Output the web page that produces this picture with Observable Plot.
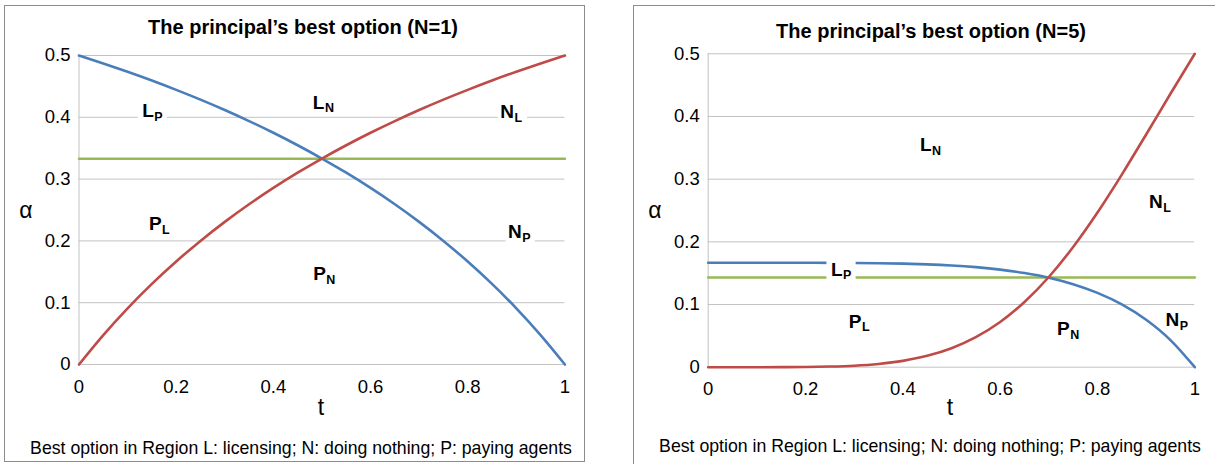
<!DOCTYPE html>
<html>
<head>
<meta charset="utf-8">
<script src="https://cdn.jsdelivr.net/npm/d3@7"></script>
<script src="https://cdn.jsdelivr.net/npm/@observablehq/plot@0.6"></script>
<style>
  html, body { margin: 0; padding: 0; background: #fff; }
  body { position: relative; width: 1215px; height: 464px; overflow: hidden;
         font-family: "Liberation Sans", Arial, sans-serif; color: #000; }
  .panel { position: absolute; box-sizing: border-box; border: 1px solid #8c8c8c; background: #fff; }
  .txt { position: absolute; white-space: nowrap; line-height: 1; transform: translateX(-50%); }
  .title { font-weight: bold; font-size: 20px; }
  .caption { font-size: 17.7px; }
  .axlab { font-size: 23px; }
  .plotbox { position: absolute; }
</style>
</head>
<body>
<div class="panel" style="left:4px; top:5px; width:581px; height:457px;"></div>
<div class="panel" style="left:633px; top:5px; width:640px; height:480px;"></div>

<div class="txt title" style="left:303px; top:17px;">The principal’s best option (N=1)</div>
<div class="txt title" style="left:931px; top:21px;">The principal’s best option (N=5)</div>
<div class="txt caption" style="left:301px; top:439.5px;">Best option in Region L: licensing; N: doing nothing; P: paying agents</div>
<div class="txt caption" style="left:930px; top:438px;">Best option in Region L: licensing; N: doing nothing; P: paying agents</div>
<div class="txt axlab" style="left:321px; top:396px;">t</div>
<div class="txt axlab" style="left:950px; top:396px;">t</div>
<div class="txt axlab" style="left:26px; top:199px;">α</div>
<div class="txt axlab" style="left:655px; top:199px;">α</div>

<div id="p1" class="plotbox" style="left:5px; top:6px;"></div>
<div id="p2" class="plotbox" style="left:634px; top:6px;"></div>

<script>
// ---- data ----
const tValues = [0, 0.05, 0.1, 0.15, 0.2, 0.25, 0.3, 0.35, 0.4, 0.45, 0.5,
                 0.55, 0.6, 0.65, 0.7, 0.75, 0.8, 0.85, 0.9, 0.95, 1];

// N = 1
const redN1  = [0, 0.0476, 0.0909, 0.1304, 0.1667, 0.2, 0.2308, 0.2593, 0.2857, 0.3103, 0.3333,
                0.3548, 0.375, 0.3939, 0.4118, 0.4286, 0.4444, 0.4595, 0.4737, 0.4872, 0.5];
const blueN1 = [0.5, 0.4872, 0.4737, 0.4595, 0.4444, 0.4286, 0.4118, 0.3939, 0.375, 0.3548, 0.3333,
                0.3103, 0.2857, 0.2593, 0.2308, 0.2, 0.1667, 0.1304, 0.0909, 0.0476, 0];
const greenN1 = 0.333;

// N = 5
const redN5  = [0, 0, 0, 0.0001, 0.0003, 0.001, 0.0024, 0.0052, 0.0101, 0.0181, 0.0303,
                0.0479, 0.0721, 0.1040, 0.1439, 0.1918, 0.2468, 0.3073, 0.3713, 0.4362, 0.5];
const blueN5 = [0.1667, 0.1667, 0.1667, 0.1667, 0.1666, 0.1665, 0.1663, 0.1659, 0.1652, 0.1641, 0.1623,
                0.1596, 0.1557, 0.1502, 0.1427, 0.1324, 0.1185, 0.1001, 0.0757, 0.0433, 0];
const greenN5 = 0.143;

// region labels (letter + subscript) and where they sit
const labelsN1 = [
  {main: "L", sub: "P", t: 0.154, a: 0.410},
  {main: "L", sub: "N", t: 0.505, a: 0.424},
  {main: "N", sub: "L", t: 0.895, a: 0.409},
  {main: "P", sub: "L", t: 0.170, a: 0.228},
  {main: "N", sub: "P", t: 0.911, a: 0.215},
  {main: "P", sub: "N", t: 0.508, a: 0.146}
];
const labelsN5 = [
  {main: "L", sub: "N", t: 0.459, a: 0.354},
  {main: "N", sub: "L", t: 0.934, a: 0.263},
  {main: "L", sub: "P", t: 0.276, a: 0.156},
  {main: "P", sub: "L", t: 0.315, a: 0.073},
  {main: "P", sub: "N", t: 0.743, a: 0.061},
  {main: "N", sub: "P", t: 0.968, a: 0.076}
];

const xTicks = [0, 0.2, 0.4, 0.6, 0.8, 1];
const yTicks = [0, 0.1, 0.2, 0.3, 0.4, 0.5];

// ---- drawing ----
const BLUE = "#4a7ebb", RED = "#be4b48", GREEN = "#98b954", GRID = "#c3c3c3";
const fmt = d3.format("~g");

function series(ys) { return tValues.map((t, i) => ({t, a: ys[i]})); }

function panel({red, blue, green, labels, marginTop, marginBottom, marginLeft, marginRight}) {
  return Plot.plot({
    width: 575, height: 420,
    marginTop, marginBottom, marginLeft, marginRight,
    style: {fontFamily: '"Liberation Sans", Arial, sans-serif', fontSize: "18.5px",
            color: "#000", background: "transparent", overflow: "visible"},
    x: {domain: [0, 1], ticks: xTicks, tickFormat: fmt, tickSize: 0, tickPadding: 15, label: null},
    y: {domain: [0, 0.5], ticks: yTicks, tickFormat: fmt, tickSize: 0, tickPadding: 8.5, label: null},
    marks: [
      Plot.ruleY(yTicks, {stroke: GRID, strokeWidth: 1}),
      Plot.ruleX([0], {stroke: GRID, strokeWidth: 1}),
      Plot.line([{t: 0, a: green}, {t: 1, a: green}], {x: "t", y: "a", stroke: GREEN, strokeWidth: 2.6}),
      Plot.line(series(blue), {x: "t", y: "a", stroke: BLUE, strokeWidth: 2.6, curve: "monotone-x"}),
      Plot.line(series(red), {x: "t", y: "a", stroke: RED, strokeWidth: 2.6, curve: "monotone-x"}),
      Plot.rect(labels, {x1: d => d.t - 0.032, x2: d => d.t + 0.028,
                         y1: d => d.a - 0.02, y2: d => d.a + 0.016, fill: "white"}),
      Plot.text(labels, {x: "t", y: "a", text: "main", textAnchor: "end",
                         fontSize: 19, fontWeight: "bold", fill: "#000"}),
      Plot.text(labels, {x: "t", y: "a", text: "sub", textAnchor: "start", dx: 0.5, dy: 6,
                         fontSize: 12.5, fontWeight: "bold", fill: "#000"})
    ]
  });
}

document.getElementById("p1").appendChild(panel({
  red: redN1, blue: blueN1, green: greenN1, labels: labelsN1,
  marginTop: 49, marginBottom: 62, marginLeft: 73.5, marginRight: 15.6
}));
document.getElementById("p2").appendChild(panel({
  red: redN5, blue: blueN5, green: greenN5, labels: labelsN5,
  marginTop: 47.3, marginBottom: 59.3, marginLeft: 73.7, marginRight: 14.7
}));
</script>
</body>
</html>
